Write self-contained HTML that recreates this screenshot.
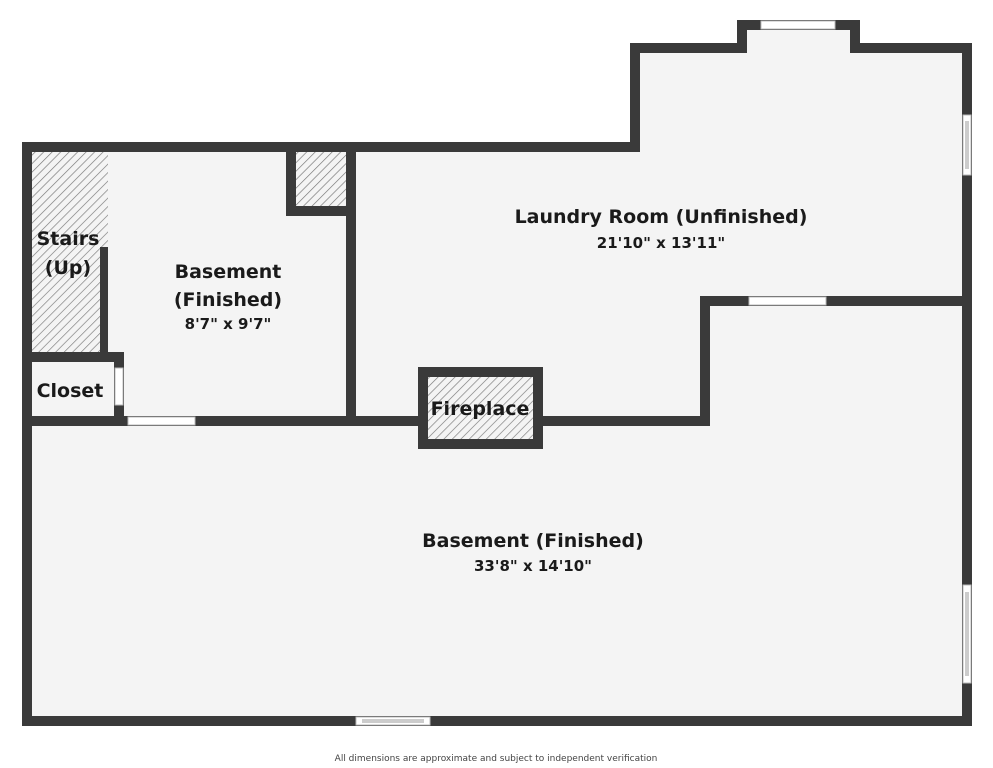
<!DOCTYPE html>
<html><head><meta charset="utf-8"><style>
html,body{margin:0;padding:0;background:#fff;}
svg{display:block;}
text{font-family:"DejaVu Sans","Liberation Sans",sans-serif;font-weight:bold;fill:#1a1a1a;}
</style></head><body>
<svg width="993" height="768" viewBox="0 0 993 768" xmlns="http://www.w3.org/2000/svg">
<defs>
<pattern id="h" width="6" height="6" patternUnits="userSpaceOnUse" patternTransform="rotate(45)">
<rect width="6" height="6" fill="#f4f4f4"/>
<line x1="0" y1="0" x2="0" y2="6" stroke="#777" stroke-width="1.3"/>
</pattern>
</defs>
<g fill="#f4f4f4">
<rect x="22" y="142" width="950" height="584"/>
<rect x="630" y="43" width="342" height="110"/>
<rect x="737" y="20" width="123" height="35"/>
</g>
<rect x="32" y="152" width="76" height="200" fill="url(#h)"/>
<rect x="296" y="152" width="50" height="54" fill="url(#h)"/>
<g fill="#3a3a3a">
<rect x="22" y="142" width="618" height="10"/>
<rect x="22" y="142" width="10" height="584"/>
<rect x="22" y="716" width="950" height="10"/>
<rect x="962" y="43" width="10" height="683"/>
<rect x="630" y="43" width="10" height="109"/>
<rect x="630" y="43" width="117" height="10"/>
<rect x="737" y="20" width="10" height="33"/>
<rect x="737" y="20" width="123" height="10"/>
<rect x="850" y="20" width="10" height="33"/>
<rect x="850" y="43" width="122" height="10"/>
<rect x="346" y="142" width="10" height="284"/>
<rect x="286" y="142" width="10" height="74"/>
<rect x="286" y="206" width="70" height="10"/>
<rect x="100" y="247" width="8" height="113"/>
<rect x="22" y="352" width="102" height="10"/>
<rect x="114" y="352" width="10" height="74"/>
<rect x="22" y="416" width="688" height="10"/>
<rect x="700" y="296" width="10" height="130"/>
<rect x="700" y="296" width="272" height="10"/>
<rect x="418" y="367" width="125" height="82"/>
</g>
<rect x="428" y="377" width="105" height="62" fill="url(#h)"/>
<g fill="#fff" stroke="#bbb" stroke-width="1">
<rect x="761" y="21" width="74" height="8"/>
<rect x="749" y="297" width="77" height="8"/>
<rect x="128" y="417" width="67" height="8"/>
<rect x="115" y="368" width="8" height="37"/>
<rect x="963" y="115" width="8" height="60"/>
<rect x="963" y="585" width="8" height="98"/>
<rect x="356" y="717" width="74" height="8"/>
</g>
<g stroke="#999" stroke-width="1" fill="none">
<line x1="966" y1="121" x2="966" y2="169"/><line x1="968" y1="121" x2="968" y2="169"/>
<line x1="966" y1="592" x2="966" y2="676"/><line x1="968" y1="592" x2="968" y2="676"/>
<line x1="362" y1="720" x2="424" y2="720"/><line x1="362" y1="722" x2="424" y2="722"/>
</g>
<g font-size="19" text-anchor="middle">
<text x="68" y="245">Stairs</text>
<text x="68" y="274">(Up)</text>
<text x="228" y="278">Basement</text>
<text x="228" y="306">(Finished)</text>
<text x="70" y="397">Closet</text>
<text x="480" y="415">Fireplace</text>
<text x="661" y="223">Laundry Room (Unfinished)</text>
<text x="533" y="547">Basement (Finished)</text>
</g>
<g font-size="15" text-anchor="middle">
<text x="228" y="329">8'7" x 9'7"</text>
<text x="661" y="248">21'10" x 13'11"</text>
<text x="533" y="571">33'8" x 14'10"</text>
</g>
<text x="496" y="761" font-size="9" text-anchor="middle" style="font-weight:normal;fill:#444">All dimensions are approximate and subject to independent verification</text>
</svg>
</body></html>
